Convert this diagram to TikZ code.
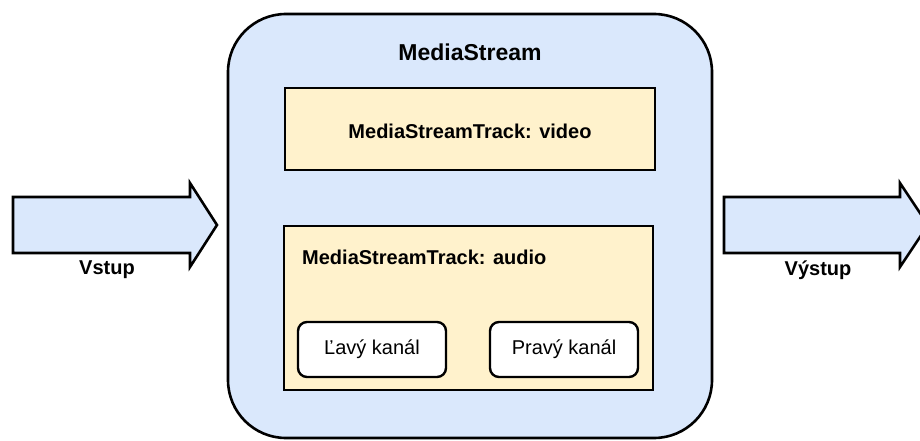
\documentclass[tikz,border=0pt]{standalone}
\usepackage{fontspec}
\setmainfont{Liberation Sans}
\definecolor{blueF}{HTML}{DAE8FC}
\definecolor{yellowF}{HTML}{FFF2CC}
\tikzset{
  every picture/.style={x=1pt,y=-1pt},
  outline/.style={draw=black,line width=2.6pt,line join=miter},
  arrowshape/.style={outline,fill=blueF},
  streambox/.style={outline,fill=blueF,rounded corners=58pt},
  trackbox/.style={outline,fill=yellowF},
  chanbox/.style={draw=black,line width=2.4pt,fill=white,rounded corners=9pt,minimum width=148pt,minimum height=55pt,inner sep=0pt,font=\fontsize{20}{24}\selectfont},
  lbl/.style={font=\bfseries\fontsize{20}{24}\selectfont,inner sep=0pt},
  title/.style={font=\bfseries\fontsize{23}{27}\selectfont,inner sep=0pt}
}
\begin{document}
\begin{tikzpicture}
\useasboundingbox (0,0) rectangle (920,441);
\clip (0,0) rectangle (920,441);
% input arrow
\coordinate (inA) at (13,197);
\draw[arrowshape] (13,197) -- (190,197) -- (190,183) -- (217,225) -- (190,267) -- (190,253) -- (13,253) -- cycle;
\node[lbl] (vstup) at (107,270) {Vstup};
% output arrow
\draw[arrowshape] (724,197) -- (900,197) -- (900,183) -- (928,225) -- (900,267) -- (900,253) -- (724,253) -- cycle;
\node[lbl] (vystup) at (818,270) {Výstup};
% media stream
\draw[streambox] (228,14) rectangle (712,438);
\node[title] (ms) at (470,52) {MediaStream};
% video track
\draw[trackbox] (285,88) rectangle (655,170);
\node[lbl] (video) at (470,131) {MediaStreamTrack: video};
% audio track
\draw[trackbox] (284,226) rectangle (653,390);
\node[lbl,anchor=west] (audio) at (302,257) {MediaStreamTrack: audio};
% channels
\node[chanbox] (left) at (372,349.5) {Ľavý kanál};
\node[chanbox] (right) at (564,349.5) {Pravý kanál};
\end{tikzpicture}
\end{document}
